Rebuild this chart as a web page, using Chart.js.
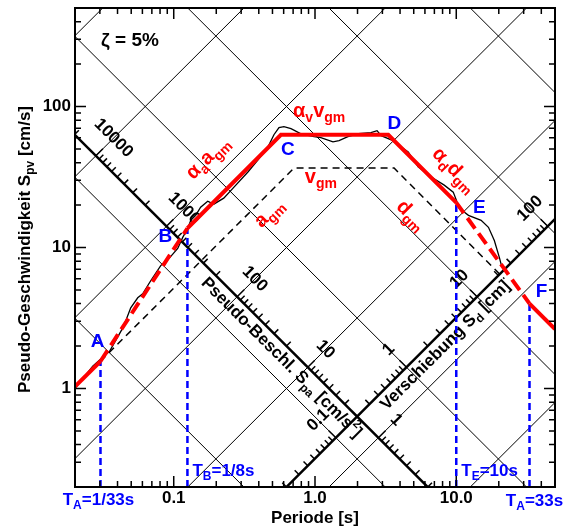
<!DOCTYPE html>
<html>
<head>
<meta charset="utf-8">
<script src="https://cdn.jsdelivr.net/npm/chart.js@4.4.0/dist/chart.umd.min.js"></script>
<style>
  html, body { margin: 0; padding: 0; background: #fff; }
</style>
</head>
<body>
<canvas id="grafico" width="571" height="529"></canvas>
<script>
// Achsenbereich
const periodeMin = 0.02, periodeMax = 50;
const svMin = 0.2, svMax = 500;
const xTickWerte = [0.1, 1, 10];
const xTickTexte = ['0.1', '1.0', '10.0'];
const yTickWerte = [1, 10, 100];
const yTickTexte = ['1', '10', '100'];

// tripartites Netz
const sdLinien = [0.01, 0.1, 1, 10, 100, 1000];
const saLinien = [0.1, 1, 10, 100, 1000, 10000, 100000];
const spaAchseSd = 0.2;   // Spa-Achse liegt auf Sd = 0.2 cm
const sdAchseSa = 2;      // Sd-Achse liegt auf Sa = 2 cm/s^2
const spaBeschriftung = [10000, 1000, 100, 10, 1];
const sdBeschriftung = [0.1, 1, 10, 100];

// gemessenes Antwortspektrum
const spektrumT = [0.02, 0.0267, 0.0303, 0.0352, 0.0435, 0.0457, 0.0496, 0.0556, 0.0603, 0.0687,
  0.0809, 0.0937, 0.1067, 0.1158, 0.1257, 0.132, 0.143, 0.155, 0.174, 0.192, 0.226, 0.267,
  0.335, 0.395, 0.465, 0.512, 0.556, 0.603, 0.676, 0.796, 0.985, 1.10, 1.34, 1.48, 1.71,
  2.02, 2.49, 2.75, 2.94, 3.46, 4.57, 5.37, 6.65, 8.22, 9.52, 10.0, 10.5, 12.2, 15.0,
  16.9, 18.6, 20.2, 20.9];
const spektrumSv = [1.0, 1.44, 1.61, 1.84, 2.68, 3.01, 3.73, 4.40, 4.69, 5.81,
  7.44, 8.48, 9.84, 11.8, 13.7, 15.6, 16.9, 19.3, 21.3, 20.3, 22.4, 26.8,
  34.3, 41.8, 51.8, 63.1, 70.8, 72, 69.7, 64.1, 61.1, 60.1, 56.2, 57.3, 61.1,
  64.1, 65.2, 67.4, 62.1, 58.1, 47.7, 37.3, 31.6, 27.7, 24.7, 21.7, 19.0, 16.9, 15.6,
  13.9, 11.2, 8.48, 7.44];

// Bemessungsspektrum (rot)
const bemessungT = [0.02, 1 / 33, 1 / 8, 0.574, 3.3, 10, 33, 50];
const bemessungSv = [1.03, 1.56, 13.7, 63, 63, 20.8, 4.0, 2.64];
const bemessungGestrichelt = [1, 5];   // Abschnitte A-B und E-F
const eckBuchstaben = ['A', 'B', 'C', 'D', 'E', 'F'];
const eckIndex = [1, 2, 3, 4, 5, 6];

// Bodenbewegung (schwarz gestrichelt)
const bodenT = [1 / 33, 0.71, 3.63, 21.9];
const bodenSv = [1.56, 36.6, 36.6, 6.0];

// Eckperioden (blau)
const eckT = [1 / 33, 1 / 8, 10, 33];
const eckSv = [1.56, 13.7, 20.8, 4.0];

const SCHRIFT = '"Liberation Sans", Arial, Helvetica, sans-serif';
const ROT = '#ff0000';
const BLAU = '#0000ff';

function punkte(ts, vs) {
    return ts.map((t, i) => ({ x: t, y: vs[i] }));
}

// Text mit Tief-/Hochstellung: teile = [[text, 0|1|2], ...]
function zeichneText(ctx, teile, x, y, winkel, groesse, farbe, ausr) {
    if (typeof teile === 'string') teile = [[teile, 0]];
    const fNorm = 'bold ' + groesse + 'px ' + SCHRIFT;
    const fKlein = 'bold ' + Math.round(groesse * 0.68) + 'px ' + SCHRIFT;
    ctx.save();
    ctx.translate(x, y);
    ctx.rotate(winkel * Math.PI / 180);
    ctx.fillStyle = farbe;
    ctx.textBaseline = 'middle';
    ctx.textAlign = 'left';
    let breite = 0;
    teile.forEach(t => { ctx.font = t[1] ? fKlein : fNorm; breite += ctx.measureText(t[0]).width; });
    let pos = ausr === 'left' ? 0 : (ausr === 'right' ? -breite : -breite / 2);
    teile.forEach(t => {
        ctx.font = t[1] ? fKlein : fNorm;
        const dy = t[1] === 1 ? groesse * 0.33 : (t[1] === 2 ? -groesse * 0.38 : 0);
        ctx.fillText(t[0], pos, dy);
        pos += ctx.measureText(t[0]).width;
    });
    ctx.restore();
}

function logWerte(min, max) {
    const w = [];
    for (let k = -3; k <= 4; k++) {
        for (let m = 1; m <= 9; m++) {
            const v = m * Math.pow(10, k);
            if (v >= min * 0.999 && v <= max * 1.001) w.push({ v: v, haupt: m === 1 });
        }
    }
    return w;
}

function zahlText(v) {
    return v >= 1 ? String(Math.round(v)) : String(Number(v.toPrecision(1)));
}

// Netz und Diagonalachsen
const netzPlugin = {
    id: 'netz',
    beforeDatasetsDraw(chart) {
        const ctx = chart.ctx, ca = chart.chartArea;
        const xs = chart.scales.x, ys = chart.scales.y;
        const P = (t, v) => ({ x: xs.getPixelForValue(t), y: ys.getPixelForValue(v) });
        const sdPunkt = (sd, t) => P(t, 2 * Math.PI * sd / t);
        const saPunkt = (sa, t) => P(t, sa * t / (2 * Math.PI));

        ctx.save();
        ctx.beginPath();
        ctx.rect(ca.left, ca.top, ca.right - ca.left, ca.bottom - ca.top);
        ctx.clip();
        ctx.strokeStyle = '#000';
        ctx.lineWidth = 1;
        const linie = (a, b) => { ctx.beginPath(); ctx.moveTo(a.x, a.y); ctx.lineTo(b.x, b.y); ctx.stroke(); };
        sdLinien.forEach(sd => linie(sdPunkt(sd, 0.005), sdPunkt(sd, 200)));
        saLinien.forEach(sa => linie(saPunkt(sa, 0.005), saPunkt(sa, 200)));

        // dicke Achsen
        ctx.lineWidth = 2.5;
        linie(sdPunkt(spaAchseSd, 0.005), sdPunkt(spaAchseSd, 200));
        linie(saPunkt(sdAchseSa, 0.005), saPunkt(sdAchseSa, 200));

        const innen = p => p.x >= ca.left - 1 && p.x <= ca.right + 1 && p.y >= ca.top - 1 && p.y <= ca.bottom + 1;

        // Spa-Achse (auf Sd = const)
        let a = sdPunkt(spaAchseSd, 1), b = sdPunkt(spaAchseSd, 10);
        let l = Math.hypot(b.x - a.x, b.y - a.y);
        let u = { x: (b.x - a.x) / l, y: (b.y - a.y) / l };
        let n = { x: u.y, y: -u.x };
        const spaPos = sa => {
            const t = 2 * Math.PI * Math.sqrt(spaAchseSd / sa);
            return sdPunkt(spaAchseSd, t);
        };
        ctx.lineWidth = 1.5;
        logWerte(0.1, 100000).forEach(w => {
            const p = spaPos(w.v);
            if (!innen(p)) return;
            const L = w.haupt ? 10 : 6;
            linie(p, { x: p.x + L * n.x, y: p.y + L * n.y });
        });
        const spaWinkel = Math.atan2(u.y, u.x) * 180 / Math.PI;
        spaBeschriftung.forEach(sa => {
            const p = spaPos(sa);
            zeichneText(ctx, zahlText(sa), p.x + 25 * n.x, p.y + 25 * n.y, spaWinkel, 17, '#000', 'center');
        });
        let p = spaPos(18);
        zeichneText(ctx, [['Pseudo-Beschl. S', 0], ['pa', 1], [' [cm/s', 0], ['2', 2], [']', 0]],
            p.x - 12 * n.x, p.y - 12 * n.y, spaWinkel, 17, '#000', 'center');

        // Sd-Achse (auf Sa = const)
        a = saPunkt(sdAchseSa, 1); b = saPunkt(sdAchseSa, 10);
        l = Math.hypot(b.x - a.x, b.y - a.y);
        u = { x: (b.x - a.x) / l, y: (b.y - a.y) / l };
        n = { x: u.y, y: -u.x };
        const sdPos = sd => {
            const t = 2 * Math.PI * Math.sqrt(sd / sdAchseSa);
            return saPunkt(sdAchseSa, t);
        };
        logWerte(0.001, 10000).forEach(w => {
            const q = sdPos(w.v);
            if (!innen(q)) return;
            const L = w.haupt ? 10 : 6;
            linie(q, { x: q.x + L * n.x, y: q.y + L * n.y });
        });
        const sdWinkel = Math.atan2(u.y, u.x) * 180 / Math.PI;
        sdBeschriftung.forEach(sd => {
            const q = sdPos(sd);
            zeichneText(ctx, zahlText(sd), q.x + 25 * n.x, q.y + 25 * n.y, sdWinkel, 17, '#000', 'center');
        });
        p = sdPos(2.7);
        zeichneText(ctx, [['Verschiebung S', 0], ['d', 1], [' [cm]', 0]],
            p.x - 12 * n.x, p.y - 12 * n.y, sdWinkel, 17, '#000', 'center');
        ctx.restore();
    },
    afterDraw(chart) {
        const ctx = chart.ctx, ca = chart.chartArea;
        const xs = chart.scales.x, ys = chart.scales.y;
        ctx.save();
        ctx.strokeStyle = '#000';
        ctx.lineWidth = 1.5;
        logWerte(periodeMin, periodeMax).forEach(w => {
            const x = xs.getPixelForValue(w.v), L = w.haupt ? 11 : 6;
            ctx.beginPath();
            ctx.moveTo(x, ca.bottom); ctx.lineTo(x, ca.bottom - L);
            ctx.moveTo(x, ca.top); ctx.lineTo(x, ca.top + L);
            ctx.stroke();
        });
        logWerte(svMin, svMax).forEach(w => {
            const y = ys.getPixelForValue(w.v), L = w.haupt ? 11 : 6;
            ctx.beginPath();
            ctx.moveTo(ca.left, y); ctx.lineTo(ca.left + L, y);
            ctx.moveTo(ca.right, y); ctx.lineTo(ca.right - L, y);
            ctx.stroke();
        });
        ctx.lineWidth = 2;
        ctx.strokeRect(ca.left, ca.top, ca.right - ca.left, ca.bottom - ca.top);

        xTickWerte.forEach((v, i) => {
            zeichneText(ctx, xTickTexte[i], xs.getPixelForValue(v), ca.bottom + 11, 0, 17, '#000', 'center');
        });
        yTickWerte.forEach((v, i) => {
            zeichneText(ctx, yTickTexte[i], ca.left - 4, ys.getPixelForValue(v), 0, 17, '#000', 'right');
        });
        zeichneText(ctx, 'Periode [s]', xs.getPixelForValue(1), ca.bottom + 31, 0, 17, '#000', 'center');
        zeichneText(ctx, [['Pseudo-Geschwindigkeit S', 0], ['pv', 1], [' [cm/s]', 0]],
            25, (ca.top + ca.bottom) / 2 + 2, -90, 17, '#000', 'center');

        // Beschriftungen
        zeichneText(ctx, [['\u03b6 = 5%', 0]], ca.left + 55, ca.top + 33, 0, 19, '#000', 'center');

        const P = (t, v) => ({ x: xs.getPixelForValue(t), y: ys.getPixelForValue(v) });
        let q = P(0.174, 43.2);
        zeichneText(ctx, [['\u03b1', 0], ['a', 1], ['a', 0], ['gm', 1]], q.x, q.y, -45, 20, ROT, 'center');
        q = P(0.472, 17.5);
        zeichneText(ctx, [['a', 0], ['gm', 1]], q.x, q.y, -45, 20, ROT, 'center');
        q = P(1.07, 92);
        zeichneText(ctx, [['\u03b1', 0], ['v', 1], ['v', 0], ['gm', 1]], q.x, q.y, 0, 20, ROT, 'center');
        q = P(1.10, 31.6);
        zeichneText(ctx, [['v', 0], ['gm', 1]], q.x, q.y, 0, 20, ROT, 'center');
        q = P(9.68, 35.5);
        zeichneText(ctx, [['\u03b1', 0], ['d', 1], ['d', 0], ['gm', 1]], q.x, q.y, 45, 20, ROT, 'center');
        q = P(4.80, 16.9);
        zeichneText(ctx, [['d', 0], ['gm', 1]], q.x, q.y, 45, 20, ROT, 'center');

        // Eckpunkte A-F
        const versatz = [[-3, -19], [-22, 9], [7, 15], [6, -11], [23, 5], [12, -12]];
        eckBuchstaben.forEach((s, i) => {
            const k = eckIndex[i];
            const e = P(bemessungT[k], bemessungSv[k]);
            zeichneText(ctx, s, e.x + versatz[i][0], e.y + versatz[i][1], 0, 19, BLAU, 'center');
        });

        // Eckperioden
        const xa = xs.getPixelForValue(eckT[0]), xb = xs.getPixelForValue(eckT[1]);
        const xe = xs.getPixelForValue(eckT[2]), xf = xs.getPixelForValue(eckT[3]);
        zeichneText(ctx, [['T', 0], ['A', 1], ['=1/33s', 0]], xa - 2, ca.bottom + 13, 0, 17, BLAU, 'center');
        zeichneText(ctx, [['T', 0], ['B', 1], ['=1/8s', 0]], xb + 5, ca.bottom - 16, 0, 17, BLAU, 'left');
        zeichneText(ctx, [['T', 0], ['E', 1], ['=10s', 0]], xe + 5, ca.bottom - 16, 0, 17, BLAU, 'left');
        zeichneText(ctx, [['T', 0], ['A', 1], ['=33s', 0]], xf + 5, ca.bottom + 14, 0, 17, BLAU, 'center');
        ctx.restore();
    }
};

const datensaetze = [
    {
        label: 'Bemessung',
        data: punkte(bemessungT, bemessungSv),
        borderColor: ROT,
        borderWidth: 4,
        segment: {
            borderDash: c => bemessungGestrichelt.includes(c.p0DataIndex) ? [13, 6] : undefined
        },
        order: 0
    },
    {
        label: 'Spektrum',
        data: punkte(spektrumT, spektrumSv),
        borderColor: '#000',
        borderWidth: 1.3,
        order: 1
    },
    {
        label: 'Boden',
        data: punkte(bodenT, bodenSv),
        borderColor: '#000',
        borderWidth: 1.5,
        borderDash: [7, 5],
        order: 3
    }
];
eckT.forEach((t, i) => {
    datensaetze.push({
        label: 'T' + i,
        data: [{ x: t, y: svMin }, { x: t, y: eckSv[i] }],
        borderColor: BLAU,
        borderWidth: 2.5,
        borderDash: [7, 4],
        order: 2
    });
});

new Chart(document.getElementById('grafico'), {
    type: 'scatter',
    data: { datasets: datensaetze.map(d => Object.assign({ showLine: true, pointRadius: 0, tension: 0, fill: false }, d)) },
    options: {
        responsive: false,
        animation: false,
        devicePixelRatio: 1,
        events: [],
        layout: { padding: { left: 75, top: 8, right: 16, bottom: 42 } },
        plugins: { legend: { display: false }, tooltip: { enabled: false } },
        scales: {
            x: { type: 'logarithmic', min: periodeMin, max: periodeMax, display: false },
            y: { type: 'logarithmic', min: svMin, max: svMax, display: false }
        }
    },
    plugins: [netzPlugin]
});
</script>
</body>
</html>
